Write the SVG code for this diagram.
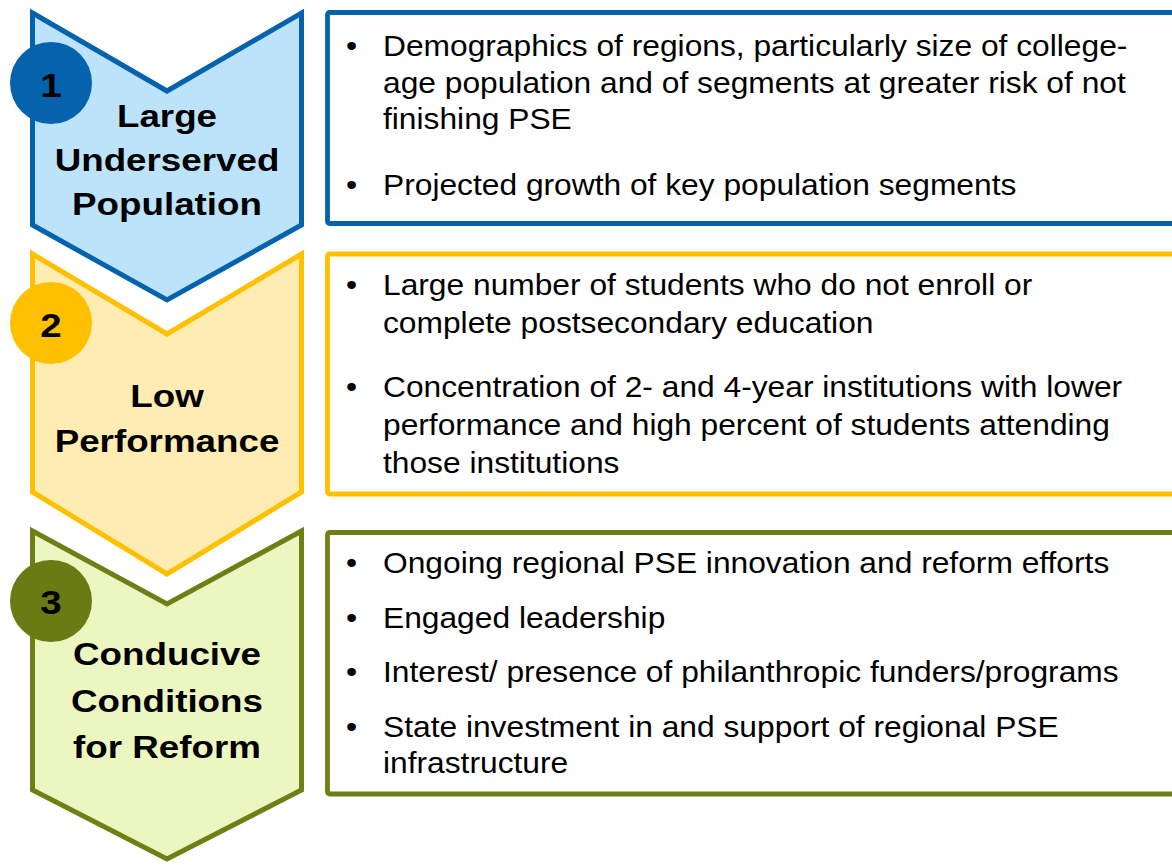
<svg xmlns="http://www.w3.org/2000/svg" width="1172" height="865" viewBox="0 0 1172 865">
<style>
.t{font-family:"Liberation Sans",Arial,sans-serif;font-weight:bold;font-size:31.7px;fill:#000;text-anchor:middle}
.n{font-family:"Liberation Sans",Arial,sans-serif;font-weight:bold;font-size:34px;fill:#000;text-anchor:middle}
.b{font-family:"Liberation Sans",Arial,sans-serif;font-size:29px;fill:#000}
.bu{font-family:"Liberation Sans",Arial,sans-serif;font-size:29px;fill:#000;text-anchor:middle}
.ch{stroke-width:5;stroke-linejoin:miter}
.bx{fill:#fff;stroke-width:4.8}
.blue{stroke:#0562AC}
.yel{stroke:#FFC000}
.grn{stroke:#6E7F15}
</style>
<rect width="1172" height="865" fill="#fff"/>
<g id="connectors"/>
<g id="step1">
<path class="ch blue" fill="#BDE3FB" d="M32.5,13 L167,91 L301.5,13 L301.5,225 L167,300 L32.5,225 Z"/>
<circle cx="51" cy="83" r="41" fill="#0562AC"/>
<text class="n" transform="matrix(1.13 0 0 1 51 96.8)">1</text>
<text class="t" transform="matrix(1.16 0 0 1 167 126.5)">Large</text>
<text class="t" transform="matrix(1.16 0 0 1 167 171)">Underserved</text>
<text class="t" transform="matrix(1.16 0 0 1 167 215)">Population</text>
</g>
<g id="step2">
<path class="ch yel" fill="#FFECB3" d="M32.5,254 L167,334 L301.5,254 L301.5,492 L167,574 L32.5,492 Z"/>
<circle cx="51" cy="323" r="41" fill="#FFC000"/>
<text class="n" transform="matrix(1.13 0 0 1 51 336.8)">2</text>
<text class="t" transform="matrix(1.16 0 0 1 167 406.5)">Low</text>
<text class="t" transform="matrix(1.16 0 0 1 167 451.5)">Performance</text>
</g>
<g id="step3">
<path class="ch grn" fill="#ECF6C0" d="M32.5,531 L167,604 L301.5,531 L301.5,790 L167,859 L32.5,790 Z"/>
<circle cx="51" cy="601" r="41" fill="#6B7B13"/>
<text class="n" transform="matrix(1.13 0 0 1 51 613.8)">3</text>
<text class="t" transform="matrix(1.16 0 0 1 167 665)">Conducive</text>
<text class="t" transform="matrix(1.16 0 0 1 167 711.5)">Conditions</text>
<text class="t" transform="matrix(1.16 0 0 1 167 758)">for Reform</text>
</g>
<g id="box1">
<rect class="bx blue" x="327.5" y="12.5" width="880" height="211" rx="2"/>
<text class="bu" transform="matrix(1.095 0 0 1 351.5 56)">•</text>
<text class="b" transform="matrix(1.095 0 0 1 383 56)">Demographics of regions, particularly size of college-</text>
<text class="b" transform="matrix(1.095 0 0 1 383 92.5)">age population and of segments at greater risk of not</text>
<text class="b" transform="matrix(1.095 0 0 1 383 129)">finishing PSE</text>
<text class="bu" transform="matrix(1.095 0 0 1 351.5 195)">•</text>
<text class="b" transform="matrix(1.095 0 0 1 383 195)">Projected growth of key population segments</text>
</g>
<g id="box2">
<rect class="bx yel" x="327.5" y="254" width="880" height="240" rx="2"/>
<text class="bu" transform="matrix(1.095 0 0 1 351.5 295)">•</text>
<text class="b" transform="matrix(1.095 0 0 1 383 295)">Large number of students who do not enroll or</text>
<text class="b" transform="matrix(1.095 0 0 1 383 333)">complete postsecondary education</text>
<text class="bu" transform="matrix(1.095 0 0 1 351.5 397)">•</text>
<text class="b" transform="matrix(1.095 0 0 1 383 397)">Concentration of 2- and 4-year institutions with lower</text>
<text class="b" transform="matrix(1.095 0 0 1 383 435)">performance and high percent of students attending</text>
<text class="b" transform="matrix(1.095 0 0 1 383 473)">those institutions</text>
</g>
<g id="box3">
<rect class="bx grn" x="327.5" y="532.5" width="880" height="261.5" rx="2"/>
<text class="bu" transform="matrix(1.095 0 0 1 351.5 573)">•</text>
<text class="b" transform="matrix(1.095 0 0 1 383 573)">Ongoing regional PSE innovation and reform efforts</text>
<text class="bu" transform="matrix(1.095 0 0 1 351.5 627.5)">•</text>
<text class="b" transform="matrix(1.095 0 0 1 383 627.5)">Engaged leadership</text>
<text class="bu" transform="matrix(1.095 0 0 1 351.5 682)">•</text>
<text class="b" transform="matrix(1.095 0 0 1 383 682)">Interest/ presence of philanthropic funders/programs</text>
<text class="bu" transform="matrix(1.095 0 0 1 351.5 736.5)">•</text>
<text class="b" transform="matrix(1.095 0 0 1 383 736.5)">State investment in and support of regional PSE</text>
<text class="b" transform="matrix(1.095 0 0 1 383 773)">infrastructure</text>
</g>
</svg>
